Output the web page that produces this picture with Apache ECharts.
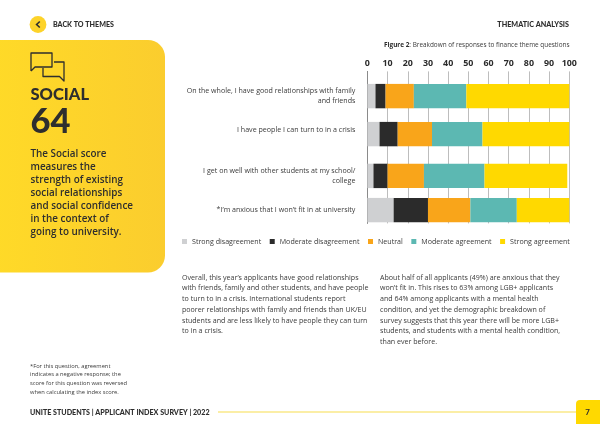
<!DOCTYPE html>
<html>
<head>
<meta charset="utf-8">
<style>html,body{margin:0;padding:0;background:#fff;overflow:hidden}#chart{width:600px;height:424px}</style>
<script src="https://cdn.jsdelivr.net/npm/echarts@6/dist/echarts.min.js"></script>
</head>
<body>
<div id="chart"></div>
<script>
// Survey questions, top to bottom
const questions = [
  'On the whole, I have good relationships with family\nand friends',
  'I have people I can turn to in a crisis',
  'I get on well with other students at my school/\ncollege',
  '*I\u2019m anxious that I won\u2019t fit in at university'
];
// Share of responses per question, in percent
const strongDisagreement = [4, 6, 3, 13];
const moderateDisagreement = [5, 9, 7, 17];
const neutral = [14, 17, 18, 21];
const moderateAgreement = [26, 25, 30, 23];
const strongAgreement = [51, 43, 41, 26];
const seriesNames = ['Strong disagreement', 'Moderate disagreement', 'Neutral', 'Moderate agreement', 'Strong agreement'];
const seriesColors = ['#cfd0d2', '#2b2b2b', '#f9a51a', '#5cb8b2', '#ffd900'];

// The rows are not evenly spaced, so the category axis is a fine ladder of
// slots with questions sitting on some of them.
const slotCount = 40;
const barSlots = [6, 16, 27, 36];
const labelSlots = [6, 15, 27, 36];

const slotLabels = new Array(slotCount).fill('');
labelSlots.forEach((s, i) => { slotLabels[s] = questions[i]; });
const toSlots = values => {
  const out = new Array(slotCount).fill(null);
  barSlots.forEach((s, i) => { out[s] = values[i]; });
  return out;
};

const seriesValues = [strongDisagreement, moderateDisagreement, neutral, moderateAgreement, strongAgreement];

const BODY = '"Open Sans", sans-serif';
const HEAD = 'Lato, sans-serif';
const INK = '#2e2e2e';

const textEl = (x, y, text, font, fontSize, fontWeight, fill, align) => ({
  type: 'text', x, y, silent: true,
  style: { text, fontFamily: font, fontSize, fontWeight, fill: fill || INK, align: align || 'left', verticalAlign: 'middle' }
});
const blockEl = (x, y, text, fontSize, lineHeight, fill) => ({
  type: 'text', x, y, silent: true,
  style: { text, fontFamily: BODY, fontSize, fill: fill || '#3a3a3a', lineHeight, align: 'left', verticalAlign: 'top' }
});
const iconStroke = points => ({ type: 'polyline', shape: { points }, style: { fill: null, stroke: INK, lineWidth: 1.3, lineJoin: 'round' } });

const pageGraphics = [
  // Header
  { type: 'circle', shape: { cx: 38, cy: 24.5, r: 8.4 }, style: { fill: '#fdd32a' } },
  { type: 'polyline', shape: { points: [[39.8, 21.5], [36.6, 24.5], [39.8, 27.5]] }, style: { stroke: INK, lineWidth: 1.6, fill: null } },
  textEl(53, 24.5, 'BACK TO THEMES', HEAD, 7.1, 900),
  textEl(569, 25, 'THEMATIC ANALYSIS', HEAD, 7.2, 900, INK, 'right'),

  // Theme panel
  { type: 'rect', z: -1, shape: { x: -20, y: 40, width: 185, height: 232.5, r: 17 },
    style: { fill: new echarts.graphic.LinearGradient(0, 0, 1, 0, [{ offset: 0, color: '#ffdb27' }, { offset: 1, color: '#fbcd2e' }]) } },
  iconStroke([[31, 71], [31, 53], [52, 53], [52, 67], [35, 67], [31, 71]]),
  iconStroke([[54, 62], [64, 62], [64, 81], [59.5, 76.5], [43, 76.5], [43, 68]]),
  textEl(30.5, 94.5, 'SOCIAL', HEAD, 16.5, 900),
  textEl(30.5, 122, '64', HEAD, 34.5, 900),
  { type: 'text', x: 30.5, y: 148, silent: true,
    style: { text: 'The Social score\nmeasures the\nstrength of existing\nsocial relationships\nand social confidence\nin the context of\ngoing to university.',
             fontFamily: BODY, fontSize: 9.9, fontWeight: 600, fill: INK, lineHeight: 12.9, align: 'left', verticalAlign: 'top' } },

  // Figure caption
  { type: 'text', x: 569.5, y: 45, silent: true,
    style: { rich: { b: { fontFamily: BODY, fontSize: 6.4, fontWeight: 700, fill: INK }, n: { fontFamily: BODY, fontSize: 6.4, fill: '#3a3a3a' } },
             text: '{b|Figure 2}{n|: Breakdown of responses to finance theme questions}', align: 'right', verticalAlign: 'middle' } },

  // Commentary columns
  blockEl(182, 272.4, 'Overall, this year\u2019s applicants have good relationships\nwith friends, family and other students, and have people\nto turn to in a crisis. International students report\npoorer relationships with family and friends than UK/EU\nstudents and are less likely to have people they can turn\nto in a crisis.', 7.1, 10.7),
  blockEl(380, 272.4, 'About half of all applicants (49%) are anxious that they\nwon\u2019t fit in. This rises to 63% among LGB+ applicants\nand 64% among applicants with a mental health\ncondition, and yet the demographic breakdown of\nsurvey suggests that this year there will be more LGB+\nstudents, and students with a mental health condition,\nthan ever before.', 7.1, 10.7),

  // Footnote
  blockEl(30, 361.7, '*For this question, agreement\nindicates a negative response; the\nscore for this question was reversed\nwhen calculating the index score.', 5.75, 8.7),

  // Footer
  textEl(30, 412.3, 'UNITE STUDENTS | APPLICANT INDEX SURVEY | 2022', HEAD, 7.15, 900),
  { type: 'line', shape: { x1: 218, y1: 412, x2: 576, y2: 412 }, style: { stroke: '#fbeea6', lineWidth: 2 } },
  { type: 'rect', shape: { x: 576, y: 400, width: 40, height: 40, r: 4 }, style: { fill: '#ffd900' } },
  textEl(587.5, 412, '7', HEAD, 7.9, 700, INK, 'center')
];

const chart = echarts.init(document.getElementById('chart'), null, { renderer: 'canvas' });
chart.setOption({
  animation: false,
  backgroundColor: '#fff',
  grid: { left: 367.4, right: 30.7, top: 71.4, height: 152, containLabel: false },
  legend: {
    left: 177, top: 233, itemWidth: 5, itemHeight: 5, itemGap: 8.5, icon: 'rect',
    textStyle: { fontFamily: BODY, fontSize: 7.1, color: '#3a3a3a' },
    data: seriesNames
  },
  xAxis: {
    type: 'value', position: 'top', min: 0, max: 100, interval: 10,
    axisLine: { show: false }, axisTick: { show: false },
    axisLabel: { fontFamily: BODY, fontSize: 8.9, fontWeight: 700, color: '#2b2b2b', margin: 3 },
    splitLine: { show: true, lineStyle: { color: '#bdbdbd', width: 1 } }
  },
  yAxis: {
    type: 'category', inverse: true, data: slotLabels,
    axisTick: { show: false },
    axisLine: { show: true, lineStyle: { color: '#8a8a8a', width: 1 } },
    axisLabel: { interval: 0, margin: 12, align: 'right', fontFamily: BODY, fontSize: 7.1, color: '#3a3a3a', lineHeight: 10.4 }
  },
  series: seriesNames.map((name, i) => ({
    name, type: 'bar', stack: 'responses', barWidth: 24.4,
    itemStyle: { color: seriesColors[i] },
    data: toSlots(seriesValues[i])
  })),
  graphic: { elements: pageGraphics }
});
</script>
</body>
</html>
